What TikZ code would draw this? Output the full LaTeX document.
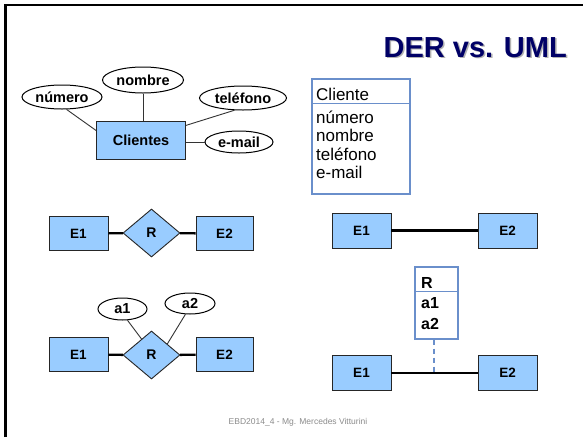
\documentclass[tikz,border=0pt]{standalone}
\usepackage{fontspec}
\setmainfont{Liberation Sans}
\usetikzlibrary{shapes.geometric,calc}
\definecolor{entfill}{HTML}{99CCFF}
\definecolor{umlblue}{HTML}{6A8FCB}
\definecolor{navy}{HTML}{000066}
\begin{document}
\begin{tikzpicture}[x=1pt,y=-1pt,
 ent/.style={draw=black!85,fill=entfill,line width=0.9pt,minimum width=59pt,minimum height=34pt,inner sep=0pt,font=\fontsize{13.5}{15}\selectfont\bfseries},
 attr/.style={ellipse,draw=black,fill=white,line width=1pt,inner sep=0pt,font=\fontsize{14.5}{16}\selectfont\bfseries},
 rel/.style={diamond,draw=black!85,fill=entfill,line width=0.9pt,minimum width=57pt,minimum height=48pt,inner sep=0pt,font=\fontsize{14}{15}\selectfont\bfseries},
 rline/.style={line width=2.4pt,black},
 aline/.style={line width=0.9pt,black!80},
 umlbox/.style={draw=umlblue,line width=1.4pt,fill=white,inner sep=0pt},
 umltxt/.style={anchor=west,inner sep=0pt,font=\fontsize{17}{19}\selectfont},
 umlbold/.style={umltxt,font=\fontsize{16}{18}\selectfont\bfseries},
 titlefont/.style={anchor=base east,inner sep=0pt,font=\fontsize{29}{32}\selectfont\bfseries},
]
\useasboundingbox (0,0) rectangle (583,437);
\fill[white] (0,0) rectangle (583,437);
\draw[line width=2.5pt] (5.5,437) -- (5.5,5) -- (583,5);

% title
\node[titlefont,text=black!30] (tsh) at (568.5,58.5) {DER vs. UML};
\node[titlefont,text=navy] (title) at (567,57) {DER vs. UML};

% ---- DER Clientes
\node[ent,minimum width=89pt,minimum height=38pt,font=\fontsize{14.5}{16}\selectfont\bfseries] (cli) at (141,140) {Clientes};
\node[attr,minimum width=80pt,minimum height=24pt] (num) at (62,97) {número};
\node[attr,minimum width=81pt,minimum height=26pt] (nom) at (143,80) {nombre};
\node[attr,minimum width=87pt,minimum height=24pt] (tel) at (243,98) {teléfono};
\node[attr,minimum width=68pt,minimum height=22pt] (mail) at (239,142) {e-mail};
\draw[aline] (num.290) -- (cli.168);
\draw[aline] (nom.south) -- (nom.south |- cli.north);
\draw[aline] (tel.235) -- (cli.18);
\draw[aline] (mail.west) -- (mail.west -| cli.east);

% ---- UML Cliente
\node[umlbox,minimum width=98pt,minimum height=115pt] (clb) at (361,136.5) {};
\draw[umlblue,line width=1.4pt] ($(clb.north west)+(0,25)$) -- ($(clb.north east)+(0,25)$);
\node[umltxt] (t0) at (316,94) {Cliente};
\node[umltxt] (t1) at (316,117) {número};
\node[umltxt] (t2) at (316,135.5) {nombre};
\node[umltxt] (t3) at (316,154) {teléfono};
\node[umltxt] (t4) at (316,172.5) {e-mail};

% ---- DER row 2
\node[ent] (a) at (78.5,233.5) {E1};
\node[rel] (r2) at (151.5,233) {R};
\node[ent,minimum width=57pt] (b) at (224.5,233.5) {E2};
\draw[rline] (a) -- (r2);
\draw[rline] (r2) -- (b);

% ---- UML row 2
\node[ent,minimum height=35pt] (ua) at (361.5,230.5) {E1};
\node[ent,minimum height=35pt] (ub) at (507.5,230.5) {E2};
\draw[rline] (ua) -- (ub);

% ---- DER row 3
\node[ent] (c) at (78.5,354.5) {E1};
\node[rel] (r3) at (151.5,355) {R};
\node[ent,minimum width=57pt] (d) at (224.5,354.5) {E2};
\node[attr,minimum width=49pt,minimum height=22pt] (a1) at (122.5,309) {a1};
\node[attr,minimum width=50pt,minimum height=21pt] (a2) at (190,303.5) {a2};
\draw[rline] (c) -- (r3);
\draw[rline] (r3) -- (d);
\draw[aline] (a1.294) -- (r3.122);
\draw[aline] (a2.247) -- (r3.35);

% ---- UML row 3
\node[ent,minimum height=35pt] (uc) at (361.5,373) {E1};
\node[ent,minimum height=35pt] (ud) at (507.5,373) {E2};
\draw[rline] (uc) -- (ud);
\node[umlbox,minimum width=43pt,minimum height=72pt] (rb) at (436.5,303) {};
\draw[umlblue,line width=1.4pt] ($(rb.north west)+(0,25)$) -- ($(rb.north east)+(0,25)$);
\node[umlbold] (rt) at (421,283) {R};
\node[umlbold] (ra1) at (421,303) {a1};
\node[umlbold] (ra2) at (421,324) {a2};
\coordinate (dj) at (434,372);
\draw[umlblue,line width=1.4pt,dash pattern=on 5pt off 4pt] (rb.south -| dj) -- (dj);

% footer
\node[text=black!45,font=\fontsize{8.5}{10}\selectfont] (foot) at (298,422) {EBD2014\_4 - Mg. Mercedes Vitturini};
\end{tikzpicture}
\end{document}
